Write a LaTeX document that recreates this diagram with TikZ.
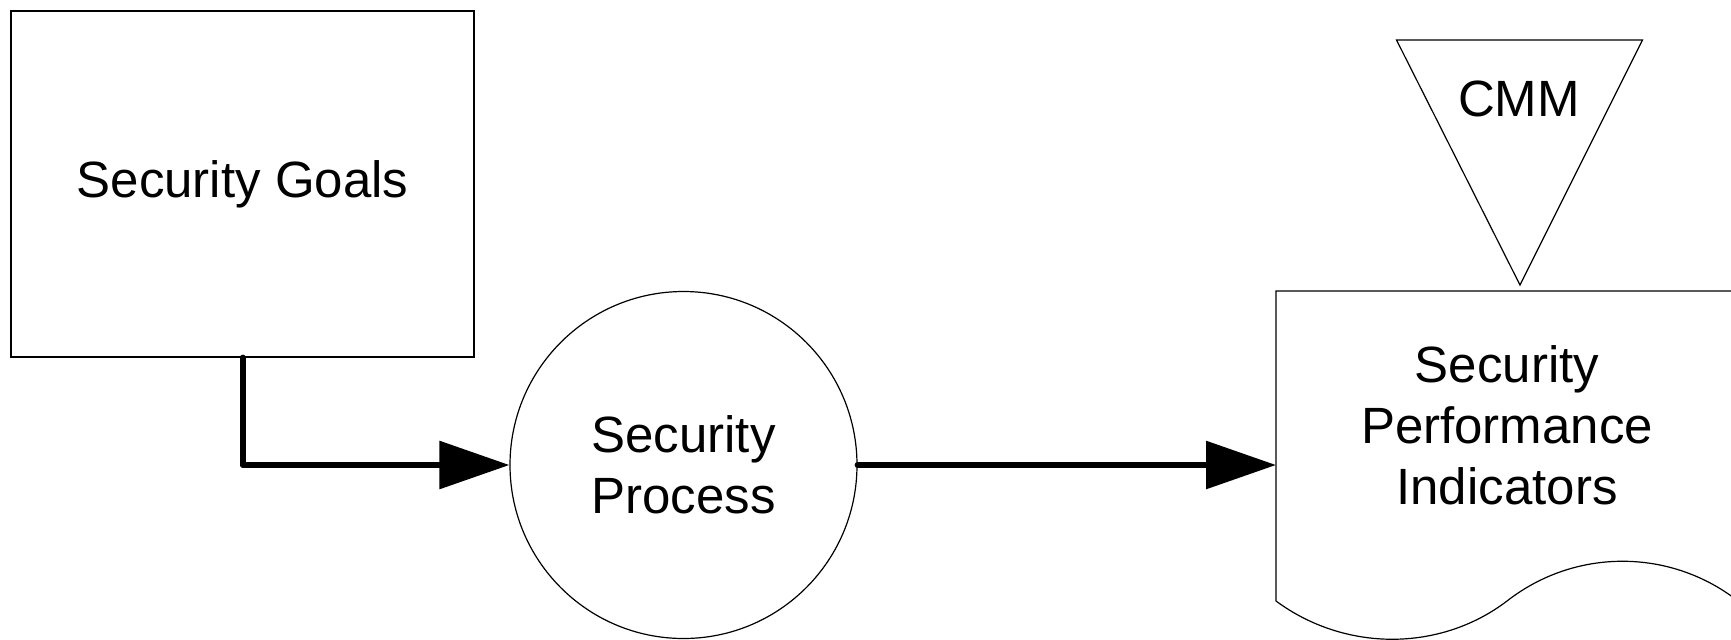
\documentclass[tikz,border=0pt]{standalone}
\usepackage{fontspec}
\setmainfont{Liberation Sans}
\usetikzlibrary{arrows.meta}
\begin{document}
\begin{tikzpicture}[x=0.5pt,y=-0.5pt,
  thin line/.style={line width=0.6pt},
  label text/.style={font=\fontsize{25.5}{30.5}\selectfont, align=center, inner sep=0pt},
  flow arrow/.style={line width=3pt, line cap=round, line join=round,
    -{Triangle[length=35pt,width=23.5pt]}}]
\clip (0,0) rectangle (1731,639);
\fill[white] (0,0) rectangle (1731,639);
% Security Goals box
\node[draw, thin line, rectangle, minimum width=231.5pt, minimum height=173pt,
  label text] (goals) at (242.5,184) {Security Goals};
% Security Process circle
\node[draw, thin line, circle, minimum size=173.5pt, label text] (proc) at (683.5,465)
  {Security\\Process};
% CMM triangle
\coordinate (triL) at (1396.5,40);
\coordinate (triR) at (1642.5,40);
\coordinate (triB) at (1520,285);
\draw[thin line, line join=miter] (triL) -- (triR) -- (triB) -- cycle;
\node[label text] (cmm) at (1519,99) {CMM};
% Document shape
\coordinate (docTL) at (1276,291);
\coordinate (docTR) at (1738,291);
\coordinate (docBL) at (1276,601);
\coordinate (docBM) at (1507,601);
\coordinate (docBR) at (1738,601);
\draw[thin line] (docBR) -- (docTR) -- (docTL) -- (docBL)
  .. controls (1345,652) and (1440,652) .. (docBM)
  .. controls (1575,548) and (1670,548) .. (docBR);
\node[label text] (doc) at (1507,425) {Security\\Performance\\Indicators};
\coordinate (docin) at (1276,465);
% Connectors
\draw[flow arrow] (goals.south) |- (proc.west);
\draw[flow arrow] (proc.east) -- (docin);
\end{tikzpicture}
\end{document}
